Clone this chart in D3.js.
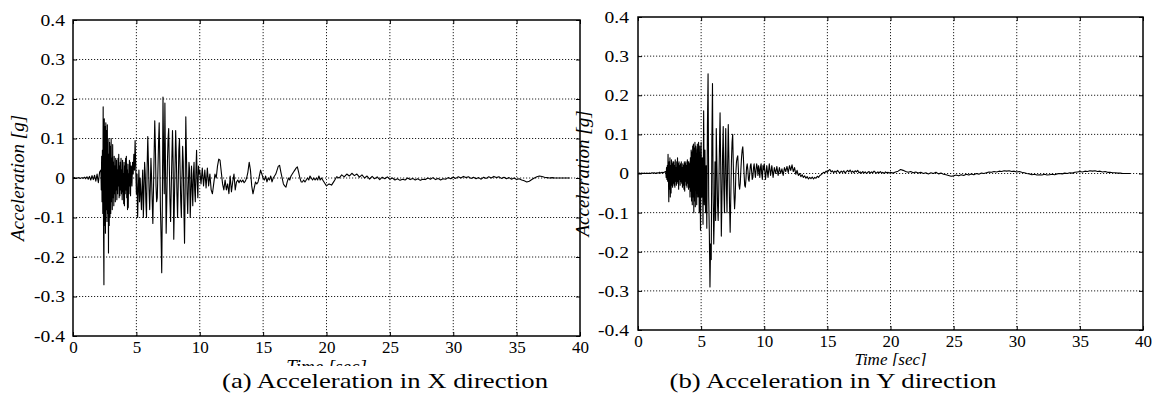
<!DOCTYPE html>
<html>
<head>
<meta charset="utf-8">
<script src="https://cdn.jsdelivr.net/npm/d3@7"></script>
<style>
body { margin: 0; background: #fff; }
svg { display: block; }
svg text { font-family: 'Liberation Serif', 'Times New Roman', Times, serif; fill: #000; }
</style>
</head>
<body>
<svg id="chart" width="1161" height="398"></svg>
<script>
// ground acceleration records, values in milli-g
// each array is sampled at a fixed step starting at the given time

// X direction
var accXPre = [0,1,0,-1,1,0,-1,1,-1,2,-2,3,-3,4,-5,6,-4,7,-8,10,-12,15];                 // 0.0s, step 0.1
var accXBurst = [20,-30,55,-60,70,-90,180,-140,-270,150,
                 -120,130,-140,140,-80,120,-110,135,-90,60,
                 -190,100,-120,90,-100,80,-90,100,-60,50,
                 -80,85,-50,40,-70,55,-40,30,-60,50,
                 -30,45,-55,20,-40,50,-20,60,-50,30,
                 -45,40,-30,50,-40,20,-55,45,-35,10,
                 -65,40,-70,30,-40,50,-30,55,-50,20,
                 -80,35,-75,10,-40,45,-20,40,-45,30];                                        // 2.2s, step 0.03
var accXMid = [30,-20,40,10,60,20,95,30,-40,10,
               -100,-30,20,-60,0,-40,-80,-20,20,-100,
               -30,40,10,-60,-100,30,105,40,-30,-80,
               -20,50,0,-60,-115,-30,60,145,80,-20,
               -60,-50,20,90,140,40,-80,-150,-240,-60,
               205,60,-40,190,20,-140,-60,40,100,125,
               30,-60,-110,-30,50,120,40,-155,-60,30,
               120,60,-40,-100,-20,70,100,20,-60,-100,
               0,80,40,-80,-165,-20,155,60,-40,-90,
               -20,40,20,-100,-40,30,-20,-70,10,40,
               -30,-60,20,70,-10,-50,30,10];                                                 // 4.6s, step 0.05
var accXLate = [20,-15,25,-20,20,-25,25,-20,10,-30,
                -40,-15,10,0,30,48,45,15,-15,-30,
                -5,-30,-15,-40,5,-35,-10,10,-30,-10,
                -5,-12,-5,-10,-5,-12,-8,0,15,40,
                20,-20,-40,-25,-10,-15,-10,5,20,10,
                0,-5,5,-10,0,-5,5,-10,0,5,
                10,20,30,32,15,0,-15,-20,-23,-10,
                0,-5,5,10,15,20,25,28,15,0,
                -10,-10,-5,-10,-5,0,-5,5,0,-5,
                0,-5,0,-5,5,-5,0,-5,-10,-15];                                               // 10.0s, step 0.1
var accXTail = [-20,-15,-18,-8,3,0,8,3,10,5,
                12,6,10,2,8,0,5,-3,4,-2,
                3,-4,2,-2,3,-3,0,-5,-2,-6,
                -3,-5,0,-4,-1,-5,-2,-6,-3,-4,
                0,-3,1,-4,-1,-5,-2,-3,1,-2,
                2,-1,3,0,4,1,3,-1,2,-2,
                1,-3,2,-1,3,0,4,1,3,-1,
                2,-2,1,-3,0,-4,-2,-5,-7,-10,
                -8,-4,0,3,5,4,2,1,0,1,
                0,0,0,0,0,0,0];                                                             // 20.0s, step 0.2

// Y direction
var accYPre = [0,1,0,1,0,1,0,1,0,1,0,2,1,2,0,2,1,3,1,3,2,4];
var accYBurst = [5,-10,15,-15,20,-20,49,-10,-72,30,
                 -40,40,-60,20,-50,35,-30,25,-35,30,
                 -25,30,-30,20,-35,35,-20,15,-30,30,
                 -25,40,-20,25,-40,30,-15,20,-30,25,
                 -20,30,-25,15,-35,25,-30,20,-40,30,
                 -45,25,-20,30,-30,20,-35,35,-25,30,
                 -40,30,-35,25,-60,40,-45,60,-70,55,
                 -80,70,-60,75,-100,65,-70,80,-85,70];
var accYMid = [60,-80,75,-60,80,-100,70,-145,80,-60,
               40,-130,160,-80,60,-100,20,-140,120,255,
               -60,-150,-290,-180,-220,80,230,-50,-180,-100,
               30,-120,115,20,-80,-120,-40,60,155,20,
               -160,-60,50,120,-40,-100,30,115,-30,-100,
               20,125,40,-80,-150,-60,30,80,100,20,
               -50,-90,-60,0,30,40,45,10,-30,-40,
               -25,10,40,60,68,40,0,-30,-35,-15,
               15,25,10,-15,-20,0,20,25,5,-15,
               -10,15,25,5,-10,10,25,15,-5,20,
               10,-10,15,25,0,-15,20,10];
var accYLate = [25,-15,20,-10,25,-5,20,-10,15,0,
                18,-5,15,0,12,-5,15,5,18,2,
                20,8,22,5,15,-2,8,-5,0,-8,
                -3,-10,-6,-12,-8,-14,-10,-13,-9,-14,
                -10,-12,-7,-10,-5,-3,0,3,2,6,
                3,8,10,4,7,2,6,3,8,4,
                2,6,3,7,1,5,8,4,9,3,
                6,2,7,4,8,2,4,1,5,2,
                4,0,3,5,1,4,2,6,3,1,
                4,2,5,1,3,0,4,2,3,1];
var accYTail = [3,1,4,6,10,8,5,3,5,2,
                4,1,3,0,2,-1,2,0,3,-1,
                1,-2,-3,-5,-7,-6,-4,-6,-3,-5,
                -2,-4,-1,-3,0,-2,1,0,2,4,
                3,5,4,6,5,7,6,7,5,6,
                4,5,3,2,0,-1,-3,-2,-4,-3,
                -4,-2,-4,-3,-2,-3,-1,0,-1,1,
                0,2,1,3,4,5,4,6,5,7,
                6,7,5,6,4,5,3,3,2,2,
                1,1,0,0,0,0];

var xTicks = [0, 5, 10, 15, 20, 25, 30, 35, 40];
var xTickLabels = ["0", "5", "10", "15", "20", "25", "30", "35", "40"];
var yTicks = [-0.4, -0.3, -0.2, -0.1, 0, 0.1, 0.2, 0.3, 0.4];
var yTickLabels = ["-0.4", "-0.3", "-0.2", "-0.1", "0", "0.1", "0.2", "0.3", "0.4"];

var FONT = "'Liberation Serif', 'Times New Roman', Times, serif";

var svg = d3.select("#chart");

function buildSeries(segs) {
    var out = [];
    segs.forEach(function(s) {
        s.vals.forEach(function(v, i) {
            out.push({ t: s.t0 + i * s.dt, a: v / 1000 });
        });
    });
    return out;
}

// widen text horizontally (the source figure's lettering is a bit wider than Liberation Serif)
function stretch(sel, k) {
    sel.each(function() {
        var len = this.getComputedTextLength();
        if (len > 0) {
            d3.select(this).attr("textLength", len * k).attr("lengthAdjust", "spacingAndGlyphs");
        }
    });
}

var panels = [
    {
        left: 73, right: 580, top: 20, bottom: 336,
        data: buildSeries([
            { t0: 0.0, dt: 0.1, vals: accXPre },
            { t0: 2.2, dt: 0.03, vals: accXBurst },
            { t0: 4.6, dt: 0.05, vals: accXMid },
            { t0: 10.0, dt: 0.1, vals: accXLate },
            { t0: 20.0, dt: 0.2, vals: accXTail }
        ]),
        yTitleX: 24, timeY: 372.5, timeSize: 19, yPad: 8,
        caption: "(a) Acceleration in X direction", capX: 385, capW: 326
    },
    {
        left: 638, right: 1143, top: 17, bottom: 330,
        data: buildSeries([
            { t0: 0.0, dt: 0.1, vals: accYPre },
            { t0: 2.2, dt: 0.03, vals: accYBurst },
            { t0: 4.6, dt: 0.05, vals: accYMid },
            { t0: 10.0, dt: 0.1, vals: accYLate },
            { t0: 20.0, dt: 0.2, vals: accYTail }
        ]),
        yTitleX: 589, timeY: 365, timeSize: 17, yPad: 9,
        caption: "(b) Acceleration in Y direction", capX: 833, capW: 327
    }
];

panels.forEach(drawPanel);

// caption strip covers the lower part of the time labels, as in the source figure
svg.append("rect")
    .attr("x", 0).attr("y", 366)
    .attr("width", 1161).attr("height", 32)
    .attr("fill", "#fff");

panels.forEach(function(p) {
    svg.append("text")
        .attr("x", p.capX).attr("y", 388)
        .attr("text-anchor", "middle")
        .attr("font-family", FONT)
        .attr("textLength", p.capW)
        .attr("lengthAdjust", "spacingAndGlyphs")
        .style("font-size", "22px")
        .text(p.caption);
});

function drawPanel(p, idx) {
    var x = d3.scaleLinear().domain([0, 40]).range([p.left, p.right]);
    var y = d3.scaleLinear().domain([-0.4, 0.4]).range([p.bottom, p.top]);
    var g = svg.append("g");

    // dotted grid
    g.selectAll("line.vgrid").data(xTicks.slice(1, -1)).enter().append("line")
        .attr("x1", function(d) { return x(d); }).attr("x2", function(d) { return x(d); })
        .attr("y1", p.top).attr("y2", p.bottom)
        .attr("stroke", "#222").attr("stroke-width", 1)
        .attr("stroke-dasharray", "1.2,1.8");
    g.selectAll("line.hgrid").data(yTicks.slice(1, -1)).enter().append("line")
        .attr("y1", function(d) { return y(d); }).attr("y2", function(d) { return y(d); })
        .attr("x1", p.left).attr("x2", p.right)
        .attr("stroke", "#222").attr("stroke-width", 1)
        .attr("stroke-dasharray", "1.2,1.8");

    // signal
    var clipId = "clip" + idx;
    svg.append("clipPath").attr("id", clipId).append("rect")
        .attr("x", p.left).attr("y", p.top)
        .attr("width", p.right - p.left).attr("height", p.bottom - p.top);

    var line = d3.line()
        .x(function(d) { return x(d.t); })
        .y(function(d) { return y(d.a); });

    g.append("path").datum(p.data)
        .attr("clip-path", "url(#" + clipId + ")")
        .attr("d", line)
        .attr("fill", "none")
        .attr("stroke", "#000")
        .attr("stroke-width", 1.1)
        .attr("stroke-linejoin", "round");

    // axes with inward ticks
    var bottomAxis = d3.axisBottom(x).tickValues(xTicks)
        .tickFormat(function(d, i) { return xTickLabels[i]; })
        .tickSize(-4).tickPadding(5);
    var leftAxis = d3.axisLeft(y).tickValues(yTicks)
        .tickFormat(function(d, i) { return yTickLabels[i]; })
        .tickSize(-4).tickPadding(p.yPad);
    var topAxis = d3.axisTop(x).tickValues(xTicks).tickFormat("").tickSize(-4);
    var rightAxis = d3.axisRight(y).tickValues(yTicks).tickFormat("").tickSize(-4);

    var ax = [
        g.append("g").attr("transform", "translate(0," + p.bottom + ")").call(bottomAxis),
        g.append("g").attr("transform", "translate(" + p.left + ",0)").call(leftAxis),
        g.append("g").attr("transform", "translate(0," + p.top + ")").call(topAxis),
        g.append("g").attr("transform", "translate(" + p.right + ",0)").call(rightAxis)
    ];
    ax.forEach(function(a) {
        a.attr("font-family", FONT).attr("font-size", 17);
        a.select(".domain").remove();
        a.selectAll(".tick line").attr("stroke", "#000");
        a.selectAll("text").attr("fill", "#000");
    });
    stretch(ax[1].selectAll("text"), 1.15);

    // frame
    g.append("rect")
        .attr("x", p.left).attr("y", p.top)
        .attr("width", p.right - p.left).attr("height", p.bottom - p.top)
        .attr("fill", "none").attr("stroke", "#000").attr("stroke-width", 1.5);

    // axis titles
    g.append("text")
        .attr("transform", "translate(" + p.yTitleX + "," + ((p.top + p.bottom) / 2) + ") rotate(-90)")
        .attr("text-anchor", "middle")
        .attr("font-family", FONT)
        .style("font-size", "19px").style("font-style", "italic")
        .text("Acceleration [g]");
    g.append("text")
        .attr("x", (p.left + p.right) / 2).attr("y", p.timeY)
        .attr("text-anchor", "middle")
        .attr("font-family", FONT)
        .style("font-size", p.timeSize + "px").style("font-style", "italic")
        .text("Time [sec]");
}
</script>
</body>
</html>
